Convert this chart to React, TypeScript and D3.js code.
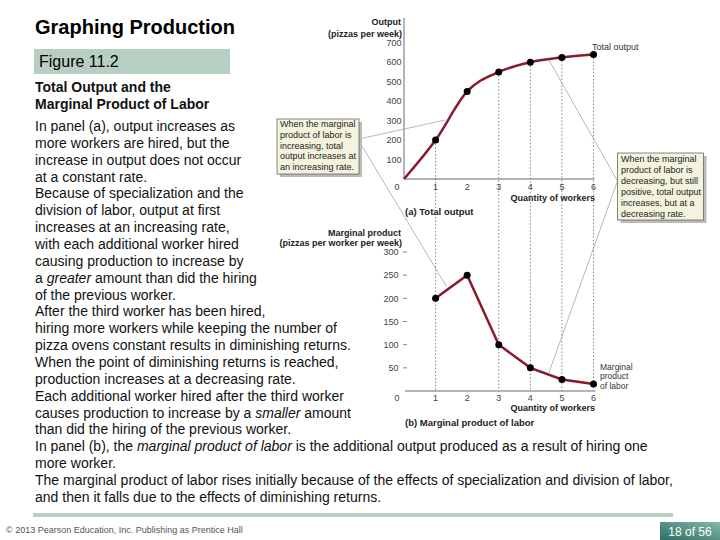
import React from "react";
import * as d3 from "d3";

// panel (a) total output
const workers = [0, 1, 2, 3, 4, 5, 6];
const totalOutput = [0, 200, 450, 550, 600, 625, 640];
const totalTicks = [100, 200, 300, 400, 500, 600, 700];

// panel (b) marginal product
const mpWorkers = [1, 2, 3, 4, 5, 6];
const marginalProduct = [200, 250, 100, 50, 25, 15];
const mpTicks = [50, 100, 150, 200, 250, 300];

const xTicks = [1, 2, 3, 4, 5, 6];
const dropWorkers = [1, 3, 4, 5, 6];

const leftNote = [
	"When the marginal",
	"product of labor is",
	"increasing, total",
	"output increases at",
	"an increasing rate.",
];
const rightNote = [
	"When the marginal",
	"product of labor is",
	"decreasing, but still",
	"positive, total output",
	"increases, but at a",
	"decreasing rate.",
];

// [text, italic]
const bodyLines: [string, boolean][][] = [
	[["In panel (a), output increases as", false]],
	[["more workers are hired, but the", false]],
	[["increase in output does not occur", false]],
	[["at a constant rate.", false]],
	[["Because of specialization and the", false]],
	[["division of labor, output at first", false]],
	[["increases at an increasing rate,", false]],
	[["with each additional worker hired", false]],
	[["causing production to increase by", false]],
	[["a ", false], ["greater", true], [" amount than did the hiring", false]],
	[["of the previous worker.", false]],
	[["After the third worker has been hired,", false]],
	[["hiring more workers while keeping the number of", false]],
	[["pizza ovens constant results in diminishing returns.", false]],
	[["When the point of diminishing returns is reached,", false]],
	[["production increases at a decreasing rate.", false]],
	[["Each additional worker hired after the third worker", false]],
	[["causes production to increase by a ", false], ["smaller", true], [" amount", false]],
	[["than did the hiring of the previous worker.", false]],
	[
		["In panel (b), the ", false],
		["marginal product of labor", true],
		[" is the additional output produced as a result of hiring one", false],
	],
	[["more worker.", false]],
	[["The marginal product of labor rises initially because of the effects of specialization and division of labor,", false]],
	[["and then it falls due to the effects of diminishing returns.", false]],
];

const FONT = "'Liberation Sans', Arial, sans-serif";
const CURVE = "#8a1a2c";

export default function App() {
	const x = d3.scaleLinear().domain([0, 6]).range([404, 593.5]);
	const yA = d3.scaleLinear().domain([0, 700]).range([179, 42.8]);
	const yB = d3.scaleLinear().domain([0, 300]).range([391, 252]);

	const totalLine = d3
		.line<number>()
		.x((d, i) => x(workers[i]))
		.y((d) => yA(d))
		.curve(d3.curveMonotoneX);

	const mpLine = d3
		.line<number>()
		.x((d, i) => x(mpWorkers[i]))
		.y((d) => yB(d));

	return (
		<svg
			width={720}
			height={540}
			style={{ position: "absolute", left: 0, top: 0, fontFamily: FONT }}
		>
			<defs>
				<linearGradient id="pg" x1="0" y1="1" x2="1" y2="0">
					<stop offset="0" stopColor="#2c6f63" />
					<stop offset="1" stopColor="#86b6ab" />
				</linearGradient>
			</defs>
			<rect width={720} height={540} fill="#fff" />

			{/* left column text */}
			<text x={35} y={34} fontSize={20} fontWeight="bold" fill="#000">
				Graphing Production
			</text>
			<rect x={34} y={49} width={196} height={25} fill="#b7cfc2" />
			<text x={39} y={67} fontSize={16} fill="#000">
				Figure 11.2
			</text>
			<text x={35} y={92} fontSize={14} fontWeight="bold" fill="#111">
				Total Output and the
			</text>
			<text x={35} y={109} fontSize={14} fontWeight="bold" fill="#111">
				Marginal Product of Labor
			</text>
			{bodyLines.map((segs, i) => (
				<text key={i} x={35} y={131 + i * 16.86} fontSize={14} fill="#111">
					{segs.map(([t, it], j) => (
						<tspan key={j} fontStyle={it ? "italic" : "normal"}>
							{t}
						</tspan>
					))}
				</text>
			))}

			{/* drop lines */}
			{dropWorkers.map((w) => (
				<line
					key={w}
					x1={x(w)}
					x2={x(w)}
					y1={yA(totalOutput[workers.indexOf(w)])}
					y2={yB(0)}
					stroke="#555"
					strokeWidth={0.7}
					strokeDasharray="1.5,2"
				/>
			))}

			{/* panel (a) axes */}
			<line x1={x(0)} x2={x(0)} y1={18} y2={yA(0)} stroke="#444" strokeWidth={0.8} />
			<line x1={x(0)} x2={x(6) + 1} y1={yA(0)} y2={yA(0)} stroke="#444" strokeWidth={0.8} />
			{totalTicks.map((t) => (
				<text key={t} x={401.5} y={yA(t) + 3.2} fontSize={9} fill="#444" textAnchor="end">
					{t}
				</text>
			))}
			<text x={397} y={189.5} fontSize={9} fill="#444" textAnchor="middle">
				0
			</text>
			{xTicks.map((t) => (
				<text key={t} x={x(t)} y={189.5} fontSize={9} fill="#444" textAnchor="middle">
					{t}
				</text>
			))}
			<text x={401} y={24.5} fontSize={9} fontWeight="bold" fill="#222" textAnchor="end">
				Output
			</text>
			<text x={402} y={36.5} fontSize={9} fontWeight="bold" fill="#222" textAnchor="end">
				(pizzas per week)
			</text>
			<text x={595} y={200.5} fontSize={9} fontWeight="bold" fill="#222" textAnchor="end">
				Quantity of workers
			</text>
			<text x={405} y={215} fontSize={9.5} fontWeight="bold" fill="#222">
				(a) Total output
			</text>
			<text x={592} y={50} fontSize={9} fill="#333">
				Total output
			</text>

			<path d={totalLine(totalOutput) ?? ""} fill="none" stroke={CURVE} strokeWidth={2.5} />
			{totalOutput.slice(1).map((v, i) => (
				<circle key={i} cx={x(workers[i + 1])} cy={yA(v)} r={3.5} fill="#000" />
			))}

			{/* panel (b) axes */}
			<line x1={x(0) + 1} x2={x(6) + 2} y1={yB(0)} y2={yB(0)} stroke="#444" strokeWidth={0.8} />
			{mpTicks.map((t) => (
				<g key={t}>
					<text x={398.5} y={yB(t) + 3.2} fontSize={9} fill="#444" textAnchor="end">
						{t}
					</text>
					<line x1={403} x2={407} y1={yB(t)} y2={yB(t)} stroke="#555" strokeWidth={0.7} />
				</g>
			))}
			<text x={397} y={401} fontSize={9} fill="#444" textAnchor="middle">
				0
			</text>
			{xTicks.map((t) => (
				<text key={t} x={x(t)} y={401} fontSize={9} fill="#444" textAnchor="middle">
					{t}
				</text>
			))}
			<text x={401} y={235.5} fontSize={9} fontWeight="bold" fill="#222" textAnchor="end">
				Marginal product
			</text>
			<text x={402} y={246} fontSize={9} fontWeight="bold" fill="#222" textAnchor="end">
				(pizzas per worker per week)
			</text>
			<text x={595} y={411} fontSize={9} fontWeight="bold" fill="#222" textAnchor="end">
				Quantity of workers
			</text>
			<text x={405} y={426} fontSize={9.5} fontWeight="bold" fill="#222">
				(b) Marginal product of labor
			</text>
			{["Marginal", "product", "of labor"].map((t, i) => (
				<text key={t} x={600} y={370 + i * 9.3} fontSize={8.5} fill="#333">
					{t}
				</text>
			))}

			<path d={mpLine(marginalProduct) ?? ""} fill="none" stroke={CURVE} strokeWidth={2.5} />
			{marginalProduct.map((v, i) => (
				<circle key={i} cx={x(mpWorkers[i])} cy={yB(v)} r={3.5} fill="#000" />
			))}

			{/* leader lines */}
			<g stroke="#888" strokeWidth={0.6} fill="none">
				<line x1={359} y1={139} x2={x(1.3)} y2={yA(303)} />
				<line x1={359} y1={141} x2={x(1.35)} y2={yB(225)} />
				<line x1={617.5} y1={181} x2={x(4.6)} y2={yA(608)} />
				<line x1={617.5} y1={181} x2={x(4.57)} y2={yB(36)} />
			</g>

			{/* callouts */}
			<rect x={280} y={122} width={82} height={55} fill="#bbb" />
			<rect x={277} y={119} width={82} height={55} fill="#f4f3de" stroke="#555" strokeWidth={0.7} />
			{leftNote.map((t, i) => (
				<text key={i} x={280} y={127 + i * 10.8} fontSize={9} fill="#222">
					{t}
				</text>
			))}
			<rect x={620.5} y={156} width={86} height={67} fill="#bbb" />
			<rect x={617.5} y={153} width={86} height={67} fill="#f4f3de" stroke="#555" strokeWidth={0.7} />
			{rightNote.map((t, i) => (
				<text key={i} x={621} y={161.5 + i * 11} fontSize={9} fill="#222">
					{t}
				</text>
			))}

			{/* footer */}
			<rect x={33} y={513} width={640} height={4} fill="#b8d0c4" />
			<text x={6} y={533} fontSize={9} fill="#555">
				© 2013 Pearson Education, Inc. Publishing as Prentice Hall
			</text>
			<rect x={660} y={522} width={60} height={18} fill="url(#pg)" />
			<text x={690} y={536} fontSize={12} fill="#fff" textAnchor="middle">
				18 of 56
			</text>
		</svg>
	);
}
